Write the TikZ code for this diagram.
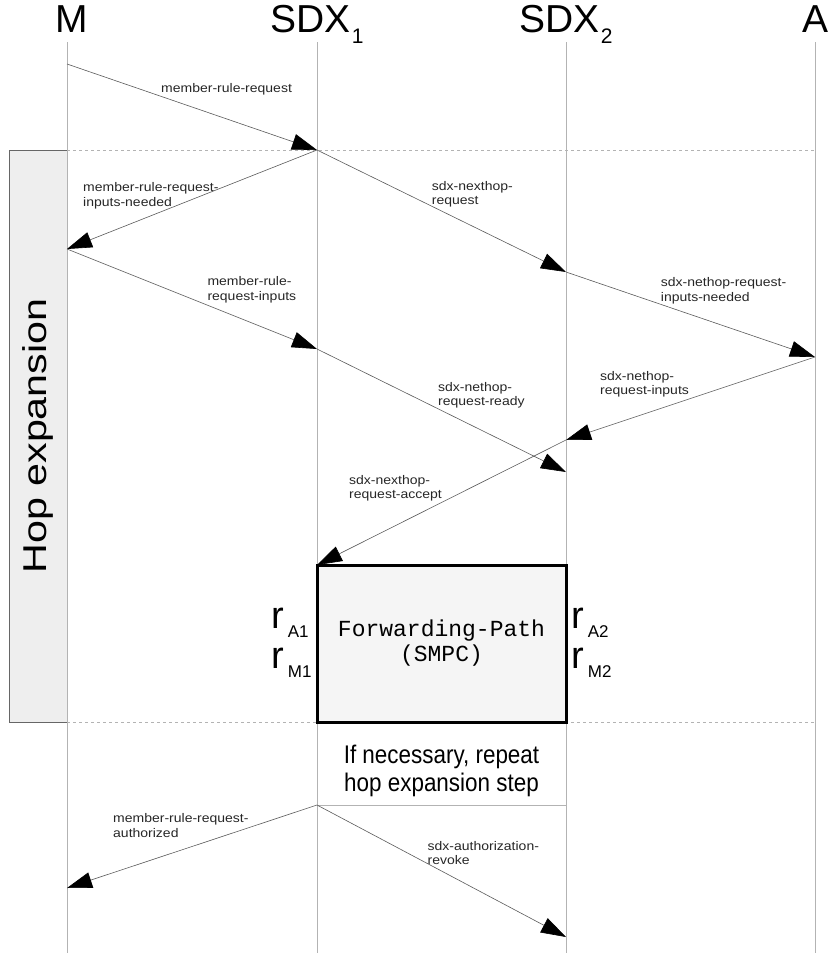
\documentclass[tikz,border=0pt]{standalone}
\usepackage{fontspec}
\setmainfont{Liberation Sans}
\newfontfamily\lblfont[FakeStretch=1.12]{Liberation Sans}
\newfontfamily\sidefont[FakeStretch=1.25]{Liberation Sans}
\newfontfamily\notefont[FakeStretch=0.88]{Liberation Sans}
\newfontfamily\codefont{Liberation Mono}
\usetikzlibrary{arrows.meta}
\definecolor{lifegray}{HTML}{B3B3B3}
\definecolor{msggray}{HTML}{5A5A5A}
\definecolor{boxfill}{HTML}{F5F5F5}
\definecolor{sidefill}{HTML}{EEEEEE}
\definecolor{sideedge}{HTML}{666666}

\begin{document}
\begin{tikzpicture}[x=1pt,y=-1pt,
  hdr/.style={inner sep=0pt, anchor=base, font=\fontsize{39}{45}\selectfont},
  lifeline/.style={draw=lifegray, line width=0.8pt},
  sepline/.style={draw=lifegray, line width=0.8pt, dash pattern=on 3pt off 3pt},
  msg/.style={draw=msggray, line width=0.6pt,
    -{Triangle[length=25pt,width=16pt,color=black]}},
  lbl/.style={inner sep=0pt, anchor=north west, align=left, text=black!85,
    font=\lblfont\fontsize{12.5}{14.6}\selectfont},
  rlbl/.style={inner sep=0pt, anchor=base west, font=\fontsize{38}{40}\selectfont},
  sidebox/.style={rotate=90, draw=sideedge, fill=sidefill, line width=0.8pt,
    minimum width=572pt, minimum height=58pt, inner sep=0pt, outer sep=0pt,
    font=\sidefont\fontsize{33}{36}\selectfont},
  pathbox/.style={draw=black, fill=boxfill, line width=3pt,
    minimum width=249pt, minimum height=157pt, inner sep=0pt, outer sep=0pt,
    align=center, font=\codefont\fontsize{23}{25}\selectfont}
]
\useasboundingbox (0,0) rectangle (830,953);

% side bracket for the hop expansion phase
\node[sidebox] (hop) at (38,436) {Hop expansion};

% lifelines
\coordinate (Mtop) at (67,42);   \coordinate (Mbot) at (67,953);
\coordinate (S1top) at (317,42); \coordinate (S1bot) at (317,953);
\coordinate (S2top) at (566,42); \coordinate (S2bot) at (566,953);
\coordinate (Atop) at (815,42);  \coordinate (Abot) at (815,953);
\draw[lifeline] (Mtop) -- (Mbot);
\draw[lifeline] (S1top) -- (S1bot);
\draw[lifeline] (S2top) -- (S2bot);
\draw[lifeline] (Atop) -- (Abot);

% phase separators
\coordinate (sepL1) at (67,150);  \coordinate (sepR1) at (815,150);
\coordinate (sepL2) at (67,722);  \coordinate (sepR2) at (815,722);
\draw[sepline] (sepL1) -- (sepR1);
\draw[sepline] (sepL2) -- (sepR2);

% SMPC computation box
\node[pathbox] (fp) at (441.5,643.5) {Forwarding-Path\\(SMPC)};

% message end points
\coordinate (m1) at (67,64);
\coordinate (s1a) at (317,150);
\coordinate (m2) at (67,249);
\coordinate (s2a) at (566,272);
\coordinate (s1b) at (317,349);
\coordinate (a1) at (815,357);
\coordinate (s2b) at (566,440);
\coordinate (s2c) at (566,472);
\coordinate (s1d) at (317,805);
\coordinate (s2d) at (566,805);
\coordinate (m3) at (67,888);
\coordinate (s2e) at (566,937);

% repeat step underline
\draw[draw=lifegray, line width=0.8pt] (s1d) -- (s2d);

% messages
\draw[msg] (m1) -- (s1a);
\draw[msg] (s1a) -- (m2);
\draw[msg] (s1a) -- (s2a);
\draw[msg] (m2) -- (s1b);
\draw[msg] (s2a) -- (a1);
\draw[msg] (s1b) -- (s2c);
\draw[msg] (a1) -- (s2b);
\draw[msg] (s2b) -- (fp.north west);
\draw[msg] (s1d) -- (m3);
\draw[msg] (s1d) -- (s2e);

% message labels
\node[lbl] (l1) at (161,83.6) {member-rule-request};
\node[lbl] (l2) at (83,182.6) {member-rule-request-\\inputs-needed};
\node[lbl] (l3) at (431.7,181) {sdx-nexthop-\\request};
\node[lbl] (l4) at (207.3,276.6) {member-rule-\\request-inputs};
\node[lbl] (l5) at (660.7,277.6) {sdx-nethop-request-\\inputs-needed};
\node[lbl] (l6) at (438,382) {sdx-nethop-\\request-ready};
\node[lbl] (l7) at (600,371) {sdx-nethop-\\request-inputs};
\node[lbl] (l8) at (349,475) {sdx-nexthop-\\request-accept};
\node[lbl] (l9) at (113,813.6) {member-rule-request-\\authorized};
\node[lbl] (l10) at (427.5,841) {sdx-authorization-\\revoke};

% participants
\node[hdr] (M) at (71.7,32) {M};
\node[hdr] (S1) at (317,32) {SDX\kern1pt\raisebox{-11pt}{\fontsize{21}{21}\selectfont 1}};
\node[hdr] (S2) at (566,32) {SDX\kern1pt\raisebox{-11pt}{\fontsize{21}{21}\selectfont 2}};
\node[hdr] (A) at (815.5,32) {A};

% rule shares held by each exchange
\newcommand{\rsub}[1]{r\kern4pt\raisebox{-9.5pt}{\fontsize{17}{17}\selectfont #1}}
\node[rlbl] (rA1) at (271,628) {\rsub{A1}};
\node[rlbl] (rM1) at (271,668) {\rsub{M1}};
\node[rlbl] (rA2) at (571,628) {\rsub{A2}};
\node[rlbl] (rM2) at (571,668) {\rsub{M2}};

% repeat note
\node[inner sep=0pt, anchor=north, align=center,
  font=\notefont\fontsize{25.5}{28}\selectfont] (rep) at (441.5,745)
  {If necessary, repeat\\hop expansion step};
\end{tikzpicture}
\end{document}
